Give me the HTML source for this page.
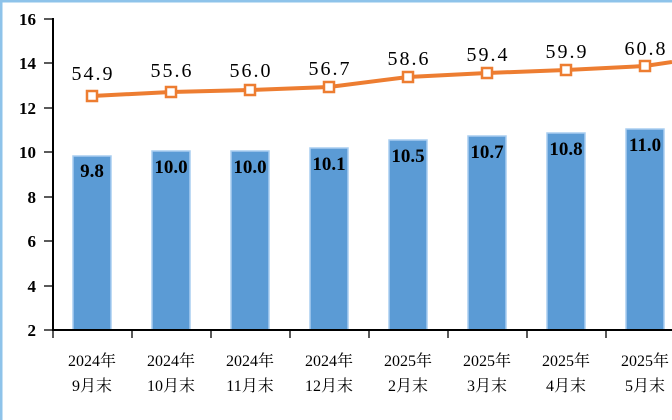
<!DOCTYPE html><html><head><meta charset="utf-8"><style>body{margin:0;background:#fff}svg{display:block}text{font-family:"Liberation Serif","Noto Serif CJK SC",serif}</style></head><body>
<svg width="672" height="420" viewBox="0 0 672 420">
<rect x="1" y="1" width="680" height="425" fill="none" stroke="#8ec3ea" stroke-width="3"/>
<g fill="#5b9bd5" stroke="#a9cdf0" stroke-width="1.5">
<rect x="73" y="156" width="38" height="174"/><rect x="152" y="151" width="38" height="179"/><rect x="231" y="151" width="38" height="179"/><rect x="310" y="148" width="38" height="182"/><rect x="389" y="140" width="38" height="190"/><rect x="468" y="136" width="38" height="194"/><rect x="547" y="133" width="38" height="197"/><rect x="626" y="129" width="38" height="201"/></g>
<g stroke="#000" stroke-width="2"><line x1="53" y1="18" x2="53" y2="331"/><line x1="52" y1="330" x2="672" y2="330"/></g>
<g stroke="#000" stroke-width="1.3">
<line x1="44" y1="19" x2="53" y2="19"/><line x1="44" y1="63" x2="53" y2="63"/><line x1="44" y1="108" x2="53" y2="108"/><line x1="44" y1="152" x2="53" y2="152"/><line x1="44" y1="197" x2="53" y2="197"/><line x1="44" y1="241" x2="53" y2="241"/><line x1="44" y1="286" x2="53" y2="286"/><line x1="44" y1="330" x2="53" y2="330"/>
<line x1="53" y1="330" x2="53" y2="338"/><line x1="132" y1="330" x2="132" y2="338"/><line x1="211" y1="330" x2="211" y2="338"/><line x1="290" y1="330" x2="290" y2="338"/><line x1="369" y1="330" x2="369" y2="338"/><line x1="448" y1="330" x2="448" y2="338"/><line x1="527" y1="330" x2="527" y2="338"/><line x1="606" y1="330" x2="606" y2="338"/></g>
<g font-size="17" text-anchor="end" font-weight="bold"><text x="36" y="25">16</text><text x="36" y="69">14</text><text x="36" y="114">12</text><text x="36" y="158">10</text><text x="36" y="203">8</text><text x="36" y="247">6</text><text x="36" y="292">4</text><text x="36" y="336">2</text></g>
<polyline points="92,96 171,92 250,90 329,87 408,77 487,73 566,70 645,66 672,62" fill="none" stroke="#ed7d31" stroke-width="4"/>
<g fill="#fff" stroke="#ed7d31" stroke-width="2.5"><rect x="87" y="91" width="10" height="10"/><rect x="166" y="87" width="10" height="10"/><rect x="245" y="85" width="10" height="10"/><rect x="324" y="82" width="10" height="10"/><rect x="403" y="72" width="10" height="10"/><rect x="482" y="68" width="10" height="10"/><rect x="561" y="65" width="10" height="10"/><rect x="640" y="61" width="10" height="10"/></g>
<g font-size="20" text-anchor="middle" letter-spacing="2"><text x="93" y="80">54.9</text><text x="172" y="77">55.6</text><text x="251" y="77">56.0</text><text x="330" y="75">56.7</text><text x="409" y="65">58.6</text><text x="488" y="61">59.4</text><text x="567" y="58">59.9</text><text x="646" y="55">60.8</text></g>
<g font-size="19" text-anchor="middle" font-weight="bold"><text x="92" y="177">9.8</text><text x="171" y="173">10.0</text><text x="250" y="173">10.0</text><text x="329" y="170">10.1</text><text x="408" y="162">10.5</text><text x="487" y="158">10.7</text><text x="566" y="155">10.8</text><text x="645" y="151">11.0</text></g>
<g font-size="16" text-anchor="middle"><text x="92" y="366">2024年</text><text x="92" y="391">9月末</text><text x="171" y="366">2024年</text><text x="171" y="391">10月末</text><text x="250" y="366">2024年</text><text x="250" y="391">11月末</text><text x="329" y="366">2024年</text><text x="329" y="391">12月末</text><text x="408" y="366">2025年</text><text x="408" y="391">2月末</text><text x="487" y="366">2025年</text><text x="487" y="391">3月末</text><text x="566" y="366">2025年</text><text x="566" y="391">4月末</text><text x="645" y="366">2025年</text><text x="645" y="391">5月末</text></g>
</svg></body></html>
